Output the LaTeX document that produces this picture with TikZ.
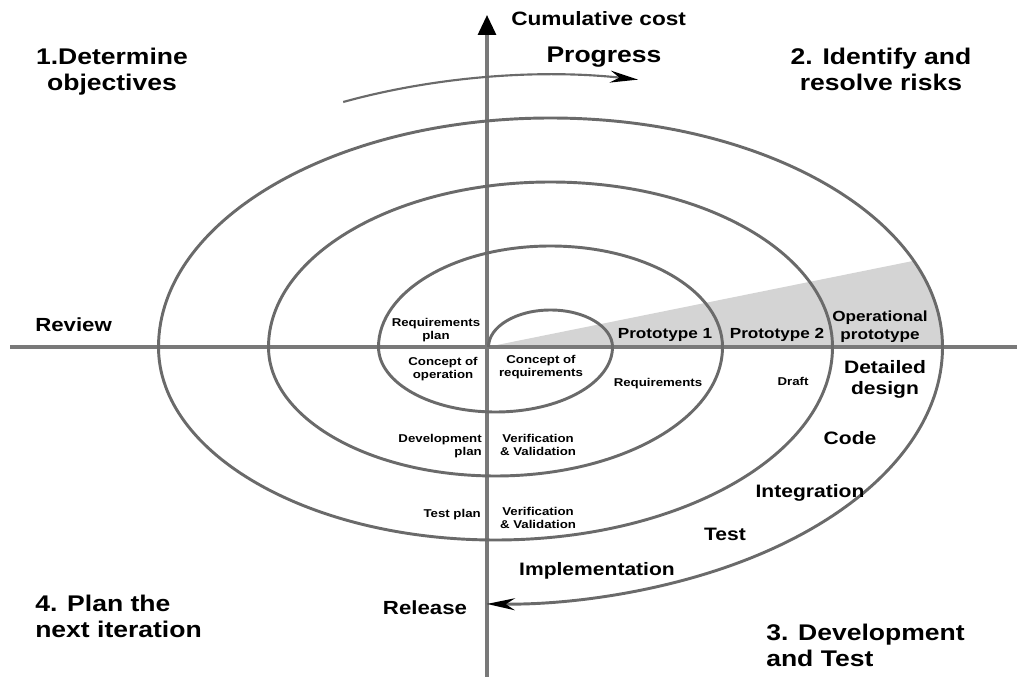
\documentclass[tikz,border=0pt]{standalone}
\usepackage{fontspec}
\newfontfamily\spiralfont{Liberation Sans}[FakeStretch=1.17]
\usetikzlibrary{arrows.meta}

\definecolor{ringgray}{HTML}{6A6A6A}
\definecolor{wedgegray}{HTML}{D4D4D4}

\begin{document}
\begin{tikzpicture}[x=0.75pt,y=0.75pt,yscale=-1,
    ring/.style={draw=ringgray, line width=2.2pt},
    axis/.style={draw=ringgray!90, line width=2.3pt},
    phase/.style={inner sep=0pt, font=\spiralfont\bfseries\fontsize{17}{19.5}\selectfont},
    task/.style={inner sep=0pt, font=\spiralfont\bfseries\fontsize{13.5}{15.75}\selectfont},
    proto/.style={inner sep=0pt, font=\spiralfont\bfseries\fontsize{11}{13.5}\selectfont},
    note/.style={inner sep=0pt, font=\spiralfont\bfseries\fontsize{8.5}{9.75}\selectfont}]
    \useasboundingbox (0,0) rectangle (1017,677);
    %
    %prototype wedge
    \begin{scope}
        \clip (158.5,347) arc[start angle=180, end angle=360, x radius=392, y radius=229] -- cycle;
        \fill [wedgegray] (487,347) -- (1100,223.2) -- (1100,347) -- cycle;
    \end{scope}
    %
    %axes
    \coordinate (left end) at (10,347);
    \coordinate (right end) at (1017,347);
    \coordinate (axis bottom) at (487,677);
    \coordinate (axis top) at (487,15);
    \draw [axis] (left end) -- (right end);
    \draw [axis, -{Triangle[color=black, length=15pt, width=13.5pt]}] (axis bottom) -- (axis top);
    %
    %spiral (upper halves around x=550.5, lower halves around x=495.5)
    \coordinate (spiral start) at (488.5,347);
    \draw [ring, -{Stealth[color=black, length=21pt, width=9pt]}] (spiral start)
        \foreach \k in {0,1,2} {
            arc[start angle=180, end angle=360, x radius=62+110*\k, y radius=37+64*\k]
            arc[start angle=0, end angle=180, x radius=117+110*\k, y radius=65+64*\k]
        }
        arc[start angle=180, end angle=360, x radius=392, y radius=229]
        arc[start angle=0, end angle=91.1, x radius=447, y radius=257];
    %
    %progress arrow
    \coordinate (progress start) at (343.2,102);
    \draw [ring, line width=1.6pt, -{Stealth[color=black, length=21pt, width=9pt]}] (progress start)
        arc[start angle=244.2, end angle=280.7, x radius=475, y radius=272];
    %
    %quadrant titles
    \node [phase, align=center] (objectives) at (112,72) {1.Determine\\objectives};
    \node [phase, align=center] (risks) at (881,69) {2. Identify and\\resolve risks};
    \node [phase, align=left, anchor=west] (development) at (766,645) {3. Development\\and Test};
    \node [phase, align=left, anchor=west] (iteration) at (35,616) {4. Plan the\\next iteration};
    \node [phase] (progress) at (604,57) {Progress};
    \node [inner sep=0pt, anchor=west, font=\spiralfont\bfseries\fontsize{14.5}{17}\selectfont] (cost) at (511,19) {Cumulative cost};
    %
    %review and release
    \node [task, font=\spiralfont\bfseries\fontsize{14.25}{17}\selectfont, anchor=west] (review) at (35,325) {Review};
    \node [task, font=\spiralfont\bfseries\fontsize{14.25}{17}\selectfont] (release) at (425,608) {Release};
    %
    %development steps
    \node [task, align=center] (detailed) at (885,379) {Detailed\\design};
    \node [task] (code) at (850,438) {Code};
    \node [task] (integration) at (810,493) {Integration};
    \node [task] (test) at (725,534) {Test};
    \node [task] (implementation) at (597,571) {Implementation};
    %
    %prototypes
    \node [proto] (proto one) at (665,334.5) {Prototype 1};
    \node [proto] (proto two) at (777,334.5) {Prototype 2};
    \node [proto, align=center] (proto op) at (880,327) {Operational\\prototype};
    %
    %inner labels
    \node [note, align=center] (req plan) at (436,330) {Requirements\\plan};
    \node [note, align=center] (concept op) at (443,369) {Concept of\\operation};
    \node [note, align=center] (concept req) at (541,367) {Concept of\\requirements};
    \node [note] (requirements) at (658,384) {Requirements};
    \node [note] (draft) at (793,381) {Draft};
    \node [note, align=right, anchor=east] (dev plan) at (482,446) {Development\\plan};
    \node [note, align=center] (vv one) at (538,445) {Verification\\\& Validation};
    \node [note, anchor=east] (test plan) at (481,514.5) {Test plan};
    \node [note, align=center] (vv two) at (538,518) {Verification\\\& Validation};
\end{tikzpicture}
\end{document}
